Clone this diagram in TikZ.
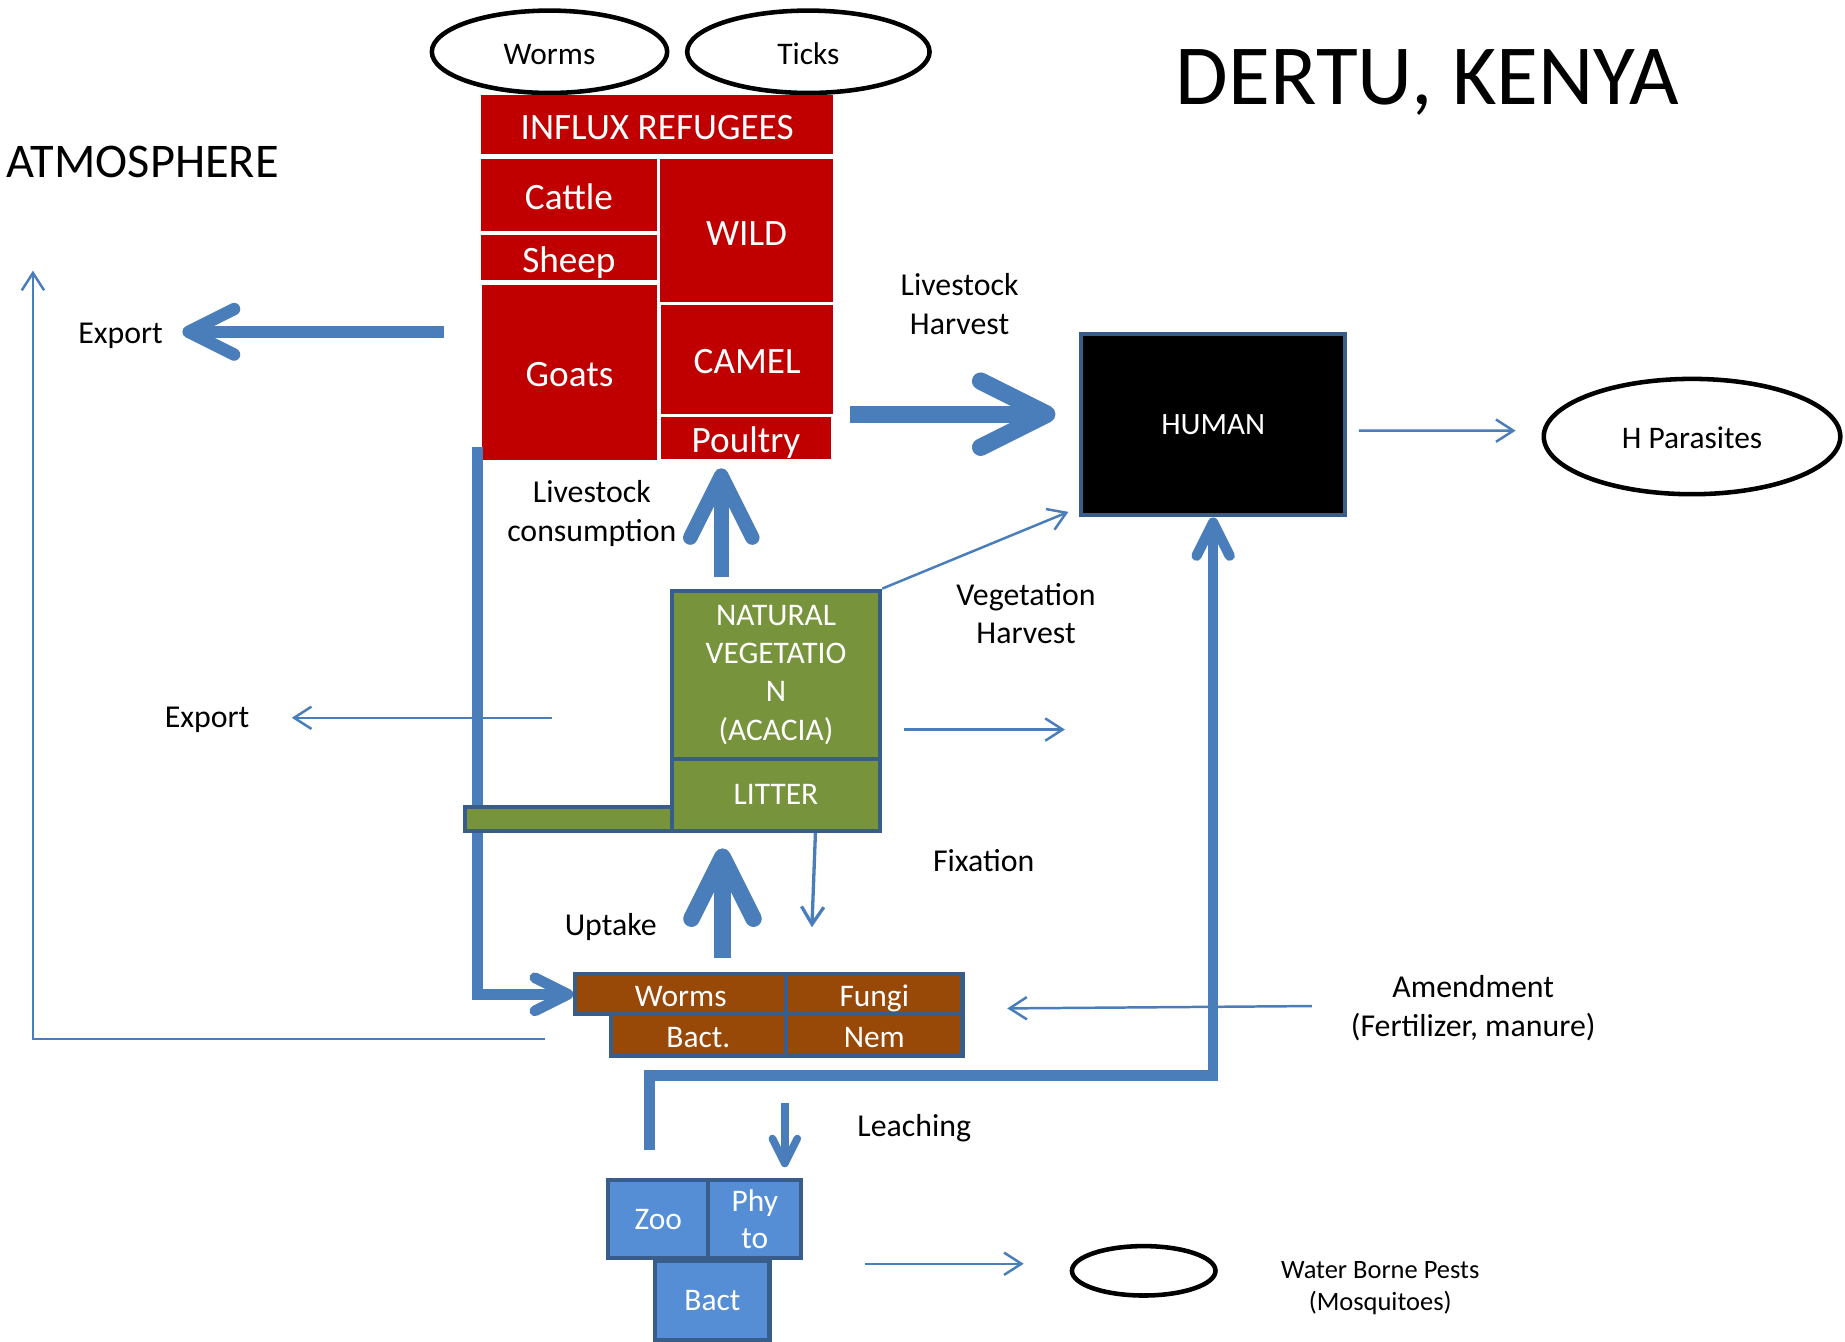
\documentclass[tikz,border=0pt]{standalone}
\usepackage{fontspec}
\setmainfont{Carlito}
\usetikzlibrary{arrows.meta,shapes.geometric}
\definecolor{flowblue}{HTML}{4A7EBB}
\definecolor{edgeblue}{HTML}{385D8A}
\definecolor{herdred}{HTML}{C00000}
\definecolor{vegegreen}{HTML}{77933C}
\definecolor{soilbrown}{HTML}{984807}
\definecolor{waterblue}{HTML}{558ED5}
\begin{document}
\begin{tikzpicture}[herd/.style={fill=herdred, text=white, inner sep=0pt, text height=8.6pt, text depth=1.6pt,
                font=\fontsize{9}{11}\selectfont},
    veg/.style={draw=edgeblue, line width=1pt, fill=vegegreen, text=white, inner sep=0pt, align=center,
                font=\fontsize{7.6}{9.3}\selectfont},
    soil/.style={draw=edgeblue, line width=1pt, fill=soilbrown, text=white, inner sep=0pt,
                 text height=7.4pt, text depth=1.4pt, font=\fontsize{7.6}{9.3}\selectfont},
    water/.style={draw=edgeblue, line width=1pt, fill=waterblue, text=white, inner sep=0pt, align=center,
                  font=\fontsize{7.6}{9.1}\selectfont},
    pest/.style={ellipse, draw=black, line width=1.1pt, inner sep=0pt, text height=7.4pt, text depth=1.4pt,
                 font=\fontsize{7.6}{9.3}\selectfont},
    lbl/.style={align=center, inner sep=0pt, font=\fontsize{7.7}{9.4}\selectfont},
    thinflow/.style={draw=flowblue, line width=0.6pt, -{Straight Barb[length=4.2pt,width=5.4pt]}},
    bigflow/.style 2 args={draw=flowblue, line width=#1, -{Straight Barb[round,length=#2,width=#2]}}]
  \useasboundingbox (0,0) rectangle (15.68,-11.40);
  \node[anchor=west, inner sep=0pt, font=\fontsize{11.7}{14}\selectfont] (atmo) at (0.05,-1.38) {ATMOSPHERE};
  \node[inner sep=0pt, font=\fontsize{20.7}{24}\selectfont] (title) at (12.13,-0.70) {DERTU, KENYA};
  \node[pest, minimum width=2.0cm, minimum height=0.70cm] (worms) at (4.67,-0.44) {Worms};
  \node[pest, minimum width=2.06cm, minimum height=0.70cm] (ticks) at (6.87,-0.44) {Ticks};
  \node[herd, minimum width=2.99cm, minimum height=0.50cm] (refugees) at (5.585,-1.06) {INFLUX REFUGEES};
  \node[herd, minimum width=1.49cm, minimum height=0.61cm] (cattle) at (4.835,-1.655) {Cattle};
  \node[herd, minimum width=1.49cm, minimum height=0.38cm] (sheep) at (4.835,-2.19) {Sheep};
  \node[herd, minimum width=1.48cm, minimum height=1.49cm] (goats) at (4.84,-3.165) {Goats};
  \node[herd, minimum width=1.47cm, minimum height=1.22cm] (wild) at (6.345,-1.96) {WILD};
  \node[herd, minimum width=1.46cm, minimum height=0.93cm] (camel) at (6.35,-3.055) {CAMEL};
  \node[herd, minimum width=1.44cm, minimum height=0.36cm] (poultry) at (6.34,-3.72) {Poultry};
  \coordinate (herdS) at (4.06,-3.80);
  \node[soil, minimum width=1.79cm, minimum height=0.34cm] (sworms) at (5.785,-8.45) {Worms};
  \draw[bigflow={2.6pt}{8pt}] (herdS) |- (sworms.west);
  \node[veg, minimum width=1.76cm, minimum height=0.20cm] (vegbar) at (4.83,-6.96) {};
  \node[veg, minimum width=1.77cm, minimum height=1.43cm] (natveg) at (6.595,-5.735)
    {NATURAL\\VEGETATIO\\N\\(ACACIA)};
  \node[veg, minimum width=1.77cm, minimum height=0.61cm] (litter) at (6.595,-6.755) {LITTER};
  \node[soil, minimum width=1.50cm, minimum height=0.34cm] (fungi) at (7.43,-8.45) {Fungi};
  \node[soil, minimum width=1.49cm, minimum height=0.35cm] (bact) at (5.935,-8.795) {Bact.};
  \node[soil, minimum width=1.50cm, minimum height=0.35cm] (nem) at (7.43,-8.795) {Nem};
  \node[draw=edgeblue, line width=1pt, fill=black, text=white, minimum width=2.24cm, minimum height=1.54cm,
        font=\fontsize{7.5}{9}\selectfont] (human) at (10.31,-3.61) {HUMAN};
  \node[pest, minimum width=2.52cm, minimum height=0.98cm] (hpara) at (14.38,-3.71) {H Parasites};
  \node[water, minimum width=0.85cm, minimum height=0.66cm] (zoo) at (5.595,-10.36) {Zoo};
  \node[water, minimum width=0.79cm, minimum height=0.66cm] (phyto) at (6.415,-10.36) {Phy\\to};
  \node[water, minimum width=0.97cm, minimum height=0.67cm] (wbact) at (6.055,-11.055) {Bact};
  \node[pest, text height=0pt, text depth=0pt, minimum width=1.22cm, minimum height=0.42cm] (wbp) at (9.72,-10.80) {};
  \node[lbl] (export1) at (1.025,-2.85) {Export};
  \node[lbl] (export2) at (1.76,-6.12) {Export};
  \node[lbl] (lcons) at (5.03,-4.365) {Livestock\\consumption};
  \node[lbl] (lharv) at (8.155,-2.585) {Livestock\\Harvest};
  \node[lbl] (vharv) at (8.72,-5.215) {Vegetation\\Harvest};
  \node[lbl] (fix) at (8.36,-7.31) {Fixation};
  \node[lbl] (uptake) at (5.19,-7.88) {Uptake};
  \node[lbl] (leach) at (7.77,-9.59) {Leaching};
  \node[lbl] (amend) at (12.52,-8.57) {Amendment\\(Fertilizer, manure)};
  \node[lbl, font=\fontsize{6.4}{7.8}\selectfont] (pests) at (11.73,-10.945) {Water Borne Pests\\(Mosquitoes)};
  \coordinate (expS) at (3.77,-2.82);
  \coordinate (expE) at (1.55,-2.82);
  \coordinate (consS) at (6.13,-4.90);
  \coordinate (consE) at (6.13,-3.98);
  \coordinate (harvS) at (7.22,-3.52);
  \coordinate (harvE) at (8.97,-3.52);
  \coordinate (upS) at (6.14,-8.14);
  \coordinate (upE) at (6.14,-7.21);
  \coordinate (retS) at (5.52,-9.77);
  \coordinate (retC) at (10.31,-9.14);
  \coordinate (leachS) at (6.67,-9.37);
  \coordinate (leachE) at (6.67,-9.92);
  \draw[bigflow={3pt}{11pt}] (expS) -- (expE);
  \draw[bigflow={3.5pt}{15pt}] (consS) -- (consE);
  \draw[bigflow={4.2pt}{16pt}] (harvS) -- (harvE);
  \draw[bigflow={4pt}{15pt}] (upS) -- (upE);
  \draw[bigflow={2.5pt}{8pt}] (retS) |- (retC) -- (human.south);
  \draw[bigflow={1.85pt}{6pt}] (leachS) -- (leachE);
  \coordinate (atmoS) at (4.63,-8.83);
  \coordinate (atmoE) at (0.28,-2.30);
  \coordinate (expB) at (4.69,-6.10);
  \coordinate (expBE) at (2.48,-6.10);
  \coordinate (vegE) at (9.08,-4.35);
  \coordinate (flowS) at (7.68,-6.20);
  \coordinate (flowE) at (9.05,-6.20);
  \coordinate (fixE) at (6.90,-7.88);
  \coordinate (amendS) at (11.15,-8.55);
  \coordinate (amendE) at (8.56,-8.57);
  \coordinate (waterS) at (7.35,-10.74);
  \coordinate (waterE) at (8.70,-10.74);
  \draw[thinflow] (atmoS) -| (atmoE);
  \draw[thinflow] (expB) -- (expBE);
  \draw[thinflow] (natveg.north east) -- (vegE);
  \draw[thinflow] (flowS) -- (flowE);
  \draw[thinflow, line width=0.8pt] ([xshift=0.335cm]litter.south) -- (fixE);
  \draw[thinflow, shorten <=0.1cm, shorten >=0.22cm] ([yshift=-0.05cm]human.east) -- ([yshift=0.05cm]hpara.west);
  \draw[thinflow] (amendS) -- (amendE);
  \draw[thinflow] (waterS) -- (waterE);
\end{tikzpicture}
\end{document}
